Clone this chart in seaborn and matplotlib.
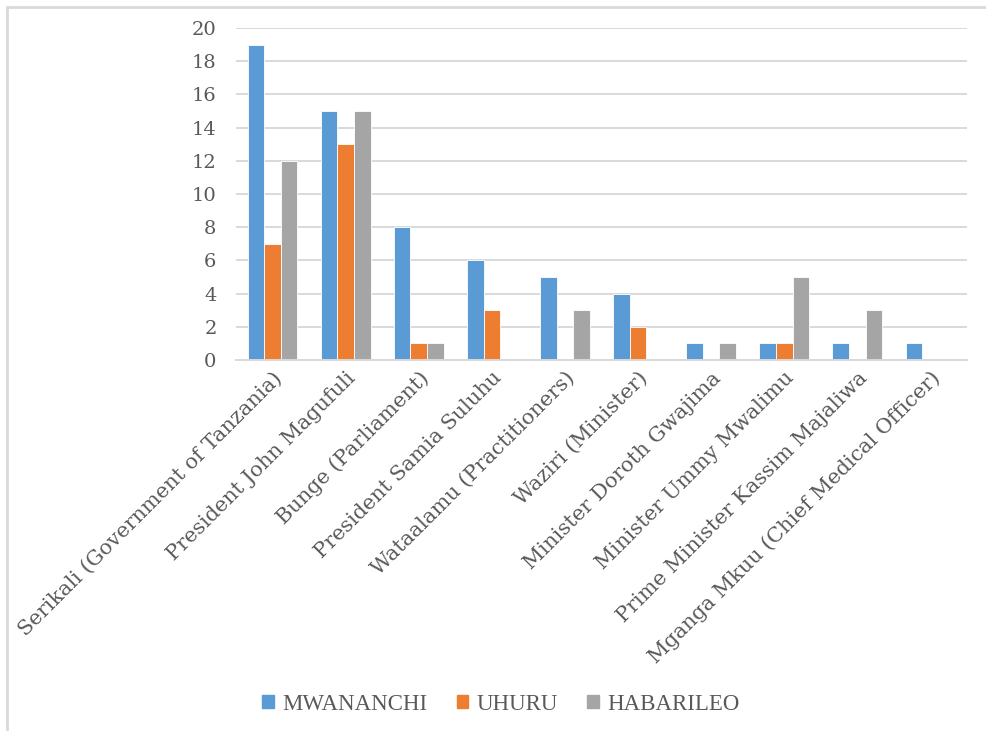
import pandas as pd
import matplotlib.pyplot as plt
import seaborn as sns
from matplotlib.patches import Rectangle

categories = [
    'Serikali (Government of Tanzania)',
    'President John Magufuli',
    'Bunge (Parliament)',
    'President Samia Suluhu',
    'Wataalamu (Practitioners)',
    'Waziri (Minister)',
    'Minister Doroth Gwajima',
    'Minister Ummy Mwalimu',
    'Prime Minister Kassim Majaliwa',
    'Mganga Mkuu (Chief Medical Officer)',
]
mwananchi = [19, 15, 8, 6, 5, 4, 1, 1, 1, 1]
uhuru = [7, 13, 1, 3, 0, 2, 0, 1, 0, 0]
habarileo = [12, 15, 1, 0, 3, 0, 1, 5, 3, 0]
series = ['MWANANCHI', 'UHURU', 'HABARILEO']
colors = ['#5B9BD5', '#ED7D31', '#A5A5A5']

df = pd.DataFrame({'category': categories, 'MWANANCHI': mwananchi,
                   'UHURU': uhuru, 'HABARILEO': habarileo})
long = df.melt(id_vars='category', var_name='paper', value_name='count')

sns.set_style('white')
text_col = '#595959'
grid_col = '#D9D9D9'

fig = plt.figure(figsize=(9.86, 7.31), dpi=100)
ax = fig.add_axes([0.2394, 0.5075, 0.9807 - 0.2394, 0.9617 - 0.5075])

sns.barplot(data=long, x='category', y='count', hue='paper', hue_order=series,
            order=categories, palette=colors, width=0.68, gap=0,
            saturation=1, ax=ax, legend=True, edgecolor='white', linewidth=0.6)

ax.set_ylim(0, 20)
ax.set_xlim(-0.5, len(categories) - 0.5)
ax.set_yticks(range(0, 21, 2))
ax.yaxis.grid(True, color=grid_col, lw=1.4)
ax.set_axisbelow(True)
for s in ['top', 'right', 'left']:
    ax.spines[s].set_visible(False)
ax.spines['bottom'].set_color(grid_col)
ax.spines['bottom'].set_linewidth(1.4)
ax.tick_params(length=0, colors=text_col)
ax.set_xlabel('')
ax.set_ylabel('')

for t in ax.get_yticklabels():
    t.set_family('DejaVu Serif')
    t.set_fontsize(14)
ax.tick_params(axis='y', pad=14)
ax.set_xticks(range(len(categories)))
ax.set_xticklabels(categories, rotation=45, ha='right', rotation_mode='anchor',
                   family='DejaVu Serif', fontsize=15, color=text_col)
ax.tick_params(axis='x', pad=6)

ax.legend_.remove()
handles = [Rectangle((0, 0), 1, 1, color=c) for c in colors]
leg = fig.legend(handles, series, loc='center', bbox_to_anchor=(0.508, 1 - 704 / 731),
                 ncol=3, frameon=False, handlelength=0.5, handleheight=0.5,
                 handletextpad=0.35, columnspacing=1.3,
                 prop={'family': 'Liberation Serif', 'size': 16.5})
for t in leg.get_texts():
    t.set_color(text_col)

# chart-area border (left and top visible)
fig.patches.append(Rectangle((7 / 986, -0.1), 1.1, 1 - 7 / 731 + 0.1,
                             transform=fig.transFigure, fill=False,
                             edgecolor='#D9D9D9', lw=2))

fig.savefig('out.png', dpi=100)
